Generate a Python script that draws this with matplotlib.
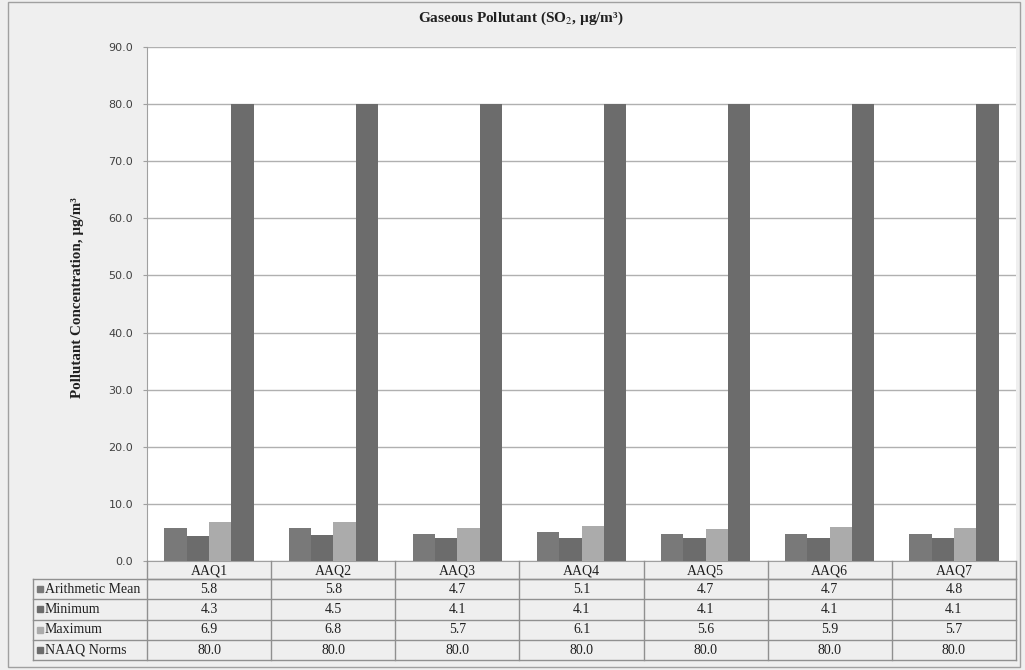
import matplotlib
matplotlib.use("Agg")
import matplotlib.pyplot as plt
from matplotlib.patches import Rectangle
import numpy as np

stations = ["AAQ1", "AAQ2", "AAQ3", "AAQ4", "AAQ5", "AAQ6", "AAQ7"]
series_names = ["Arithmetic Mean", "Minimum", "Maximum", "NAAQ Norms"]
arith_mean = [5.8, 5.8, 4.7, 5.1, 4.7, 4.7, 4.8]
minimum = [4.3, 4.5, 4.1, 4.1, 4.1, 4.1, 4.1]
maximum = [6.9, 6.8, 5.7, 6.1, 5.6, 5.9, 5.7]
naaq = [80.0, 80.0, 80.0, 80.0, 80.0, 80.0, 80.0]
yticks = [0, 10, 20, 30, 40, 50, 60, 70, 80, 90]

series = [arith_mean, minimum, maximum, naaq]
colors = ["#797979", "#6c6c6c", "#ababab", "#6c6c6c"]

W, H = 1025, 670
BG = "#efefef"
fig = plt.figure(figsize=(W / 100, H / 100), dpi=100, facecolor=BG)

def fx(px):
    return px / W

def fy(py):
    return 1 - py / H

# outer border
fig.patches.append(Rectangle((fx(8), fy(667)), fx(1020) - fx(8), fy(2) - fy(667),
                             transform=fig.transFigure, fill=False,
                             edgecolor="#a0a0a0", linewidth=1.0))

L, R, T, B = 147, 1016, 47, 561
ax = fig.add_axes([fx(L), fy(B), fx(R) - fx(L), fy(T) - fy(B)])
ax.set_facecolor("white")

n = len(stations)
x = np.arange(n)
bw = 0.18
offsets = [-1.5, -0.5, 0.5, 1.5]
for s, c, o in zip(series, colors, offsets):
    ax.bar(x + o * bw, s, width=bw, color=c, zorder=3, linewidth=0)

ax.set_xlim(-0.5, n - 0.5)
ax.set_ylim(0, 90)
ax.set_yticks(yticks)
ax.set_yticklabels([f"{v:.1f}" for v in yticks], fontsize=8, color="#404040",
                   family="DejaVu Sans")
ax.set_xticks([])
ax.tick_params(axis="y", length=3, color="#a0a0a0", pad=7)
ax.yaxis.grid(True, color="#b0b0b0", linewidth=1.0, zorder=0)
ax.set_axisbelow(True)
for side in ["top", "right"]:
    ax.spines[side].set_visible(False)
ax.spines["left"].set_color("#a0a0a0")
ax.spines["bottom"].set_color("#a0a0a0")

fig.text(fx(521), fy(18), "Gaseous Pollutant (SO$_2$, µg/m³)", ha="center", va="center",
         fontsize=11, fontweight="bold", family="Liberation Serif", color="#202020",
         math_fontfamily="stix")
fig.text(fx(77), fy(298), "Pollutant Concentration, µg/m³", ha="center", va="center",
         rotation=90, fontsize=10.8, fontweight="bold", family="Liberation Serif",
         color="#202020")

# data table
line_kw = dict(color="#909090", linewidth=1.0, transform=fig.transFigure)
col_w = (R - L) / n
TL = 33
hdr_bot = 579
row_h = 20.3
rows_bottom = hdr_bot + row_h * len(series)

def hline(x0, x1, y):
    fig.add_artist(plt.Line2D([fx(x0), fx(x1)], [fy(y), fy(y)], **line_kw))

def vline(xp, y0, y1):
    fig.add_artist(plt.Line2D([fx(xp), fx(xp)], [fy(y0), fy(y1)], **line_kw))

hline(L, R, hdr_bot)
for k in range(1, len(series) + 1):
    hline(TL, R, hdr_bot + k * row_h)
hline(TL, R, hdr_bot)
vline(TL, hdr_bot, rows_bottom)
for j in range(n + 1):
    vline(L + j * col_w, B, rows_bottom)

tkw = dict(family="Liberation Serif", fontsize=10, color="#202020")
for j, st in enumerate(stations):
    fig.text(fx(L + (j + 0.5) * col_w), fy((B + hdr_bot) / 2 + 1), st,
             ha="center", va="center", **tkw)
for i, (name, s, c) in enumerate(zip(series_names, series, colors)):
    yc = hdr_bot + (i + 0.5) * row_h
    fig.patches.append(Rectangle((fx(37), fy(yc + 3)), fx(6), 6 / H,
                                 transform=fig.transFigure, color=c))
    fig.text(fx(45), fy(yc), name, ha="left", va="center", **tkw)
    for j, v in enumerate(s):
        fig.text(fx(L + (j + 0.5) * col_w), fy(yc), f"{v:.1f}",
                 ha="center", va="center", **tkw)

fig.savefig("out.png", dpi=100, facecolor=BG)
